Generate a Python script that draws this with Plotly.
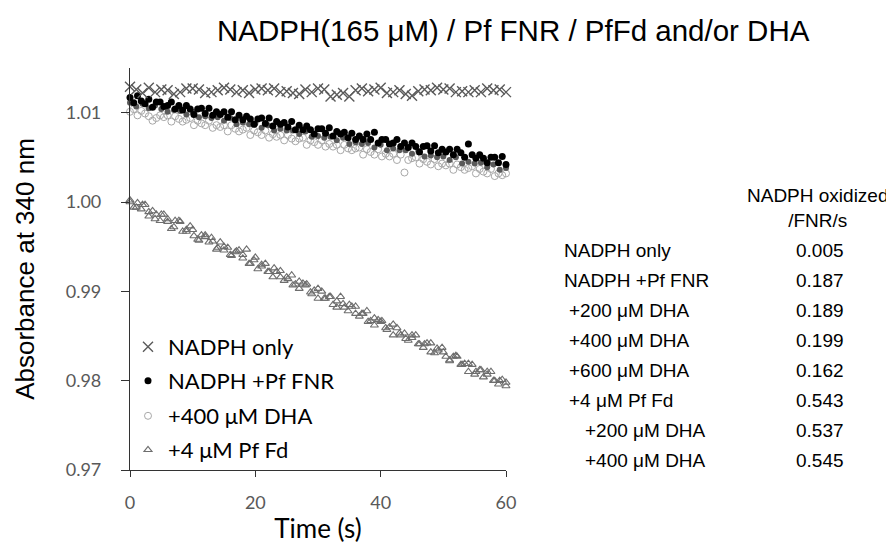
import plotly.graph_objects as go

# sample times (s)
t_fast = [0, 0.6, 1.2, 1.8, 2.4, 3, 3.6, 4.2, 4.8, 5.4,
          6, 6.6, 7.2, 7.8, 8.4, 9, 9.6, 10.2, 10.8, 11.4,
          12, 12.6, 13.2, 13.8, 14.4, 15, 15.6, 16.2, 16.8, 17.4,
          18, 18.6, 19.2, 19.8, 20.4, 21, 21.6, 22.2, 22.8, 23.4,
          24, 24.6, 25.2, 25.8, 26.4, 27, 27.6, 28.2, 28.8, 29.4,
          30, 30.6, 31.2, 31.8, 32.4, 33, 33.6, 34.2, 34.8, 35.4,
          36, 36.6, 37.2, 37.8, 38.4, 39, 39.6, 40.2, 40.8, 41.4,
          42, 42.6, 43.2, 43.8, 44.4, 45, 45.6, 46.2, 46.8, 47.4,
          48, 48.6, 49.2, 49.8, 50.4, 51, 51.6, 52.2, 52.8, 53.4,
          54, 54.6, 55.2, 55.8, 56.4, 57, 57.6, 58.2, 58.8, 59.4, 60]
t_slow = list(range(61))

# NADPH only (x)
a_nadph = [1.0129, 1.0126, 1.0122, 1.0128, 1.0123, 1.0126, 1.0125, 1.0121, 1.0123, 1.0127,
           1.0127, 1.0126, 1.0122, 1.0123, 1.0125, 1.0128, 1.0126, 1.0123, 1.0125, 1.0122,
           1.0126, 1.0127, 1.0125, 1.0127, 1.0123, 1.0124, 1.0122, 1.0121, 1.0126, 1.0123,
           1.0127, 1.0126, 1.0118, 1.0120, 1.0122, 1.0118, 1.0125, 1.0127, 1.0124, 1.0126,
           1.0128, 1.0122, 1.0123, 1.0125, 1.0121, 1.0119, 1.0124, 1.0126, 1.0125, 1.0128,
           1.0126, 1.0127, 1.0123, 1.0124, 1.0123, 1.0125, 1.0123, 1.0127, 1.0125, 1.0126,
           1.0123]

# NADPH + Pf FNR (filled black)
a_fnr = [1.0117, 1.0111, 1.0119, 1.0113, 1.0110, 1.0115, 1.0106, 1.0112, 1.0112, 1.0107,
         1.0108, 1.0112, 1.0104, 1.0108, 1.0103, 1.0108, 1.0104, 1.0098, 1.0104, 1.0105,
         1.0099, 1.0105, 1.0097, 1.0101, 1.0098, 1.0101, 1.0095, 1.0101, 1.0092, 1.0097,
         1.0092, 1.0096, 1.0093, 1.0087, 1.0093, 1.0094, 1.0088, 1.0094, 1.0085, 1.0090,
         1.0087, 1.0089, 1.0084, 1.0090, 1.0081, 1.0086, 1.0081, 1.0085, 1.0081, 1.0076,
         1.0082, 1.0082, 1.0077, 1.0083, 1.0074, 1.0079, 1.0076, 1.0078, 1.0072, 1.0077,
         1.0070, 1.0074, 1.0070, 1.0076, 1.0070, 1.0078, 1.0066, 1.0070, 1.0070, 1.0065,
         1.0066, 1.0070, 1.0062, 1.0066, 1.0061, 1.0066, 1.0062, 1.0056, 1.0062, 1.0063,
         1.0057, 1.0063, 1.0055, 1.0059, 1.0056, 1.0059, 1.0053, 1.0059, 1.0055, 1.0050,
         1.0065, 1.0053, 1.0049, 1.0053, 1.0049, 1.0044, 1.0050, 1.0050, 1.0044, 1.0051,
         1.0042]

# +200 uM DHA (dark grey, not in legend)
a_dha200 = [1.0111, 1.0107, 1.0110, 1.0105, 1.0108, 1.0104, 1.0101, 1.0103, 1.0102, 1.0098,
            1.0101, 1.0095, 1.0096, 1.0094, 1.0095, 1.0091, 1.0094, 1.0087, 1.0089, 1.0087,
            1.0088, 1.0083, 1.0086, 1.0080, 1.0082, 1.0080, 1.0080, 1.0076, 1.0079, 1.0073,
            1.0074, 1.0072, 1.0073, 1.0069, 1.0072, 1.0065, 1.0067, 1.0065, 1.0066, 1.0061,
            1.0064, 1.0058, 1.0060, 1.0058, 1.0058, 1.0054, 1.0057, 1.0051, 1.0052, 1.0050,
            1.0051, 1.0047, 1.0050, 1.0043, 1.0045, 1.0043, 1.0044, 1.0039, 1.0042, 1.0036,
            1.0038]

# +400 uM DHA (open light grey)
a_dha400 = [1.0101, 1.0104, 1.0097, 1.0102, 1.0099, 1.0096, 1.0091, 1.0094, 1.0097, 1.0095,
            1.0097, 1.0090, 1.0096, 1.0093, 1.0090, 1.0092, 1.0094, 1.0086, 1.0091, 1.0088,
            1.0086, 1.0091, 1.0083, 1.0086, 1.0084, 1.0086, 1.0079, 1.0086, 1.0082, 1.0079,
            1.0081, 1.0083, 1.0075, 1.0080, 1.0078, 1.0075, 1.0080, 1.0072, 1.0076, 1.0073,
            1.0075, 1.0069, 1.0075, 1.0071, 1.0068, 1.0071, 1.0072, 1.0064, 1.0069, 1.0067,
            1.0064, 1.0069, 1.0062, 1.0065, 1.0062, 1.0064, 1.0058, 1.0064, 1.0060, 1.0058,
            1.0060, 1.0061, 1.0053, 1.0059, 1.0056, 1.0053, 1.0059, 1.0051, 1.0054, 1.0051,
            1.0054, 1.0047, 1.0053, 1.0033, 1.0047, 1.0049, 1.0050, 1.0043, 1.0048, 1.0045,
            1.0042, 1.0048, 1.0040, 1.0043, 1.0041, 1.0043, 1.0036, 1.0042, 1.0039, 1.0036,
            1.0038, 1.0040, 1.0032, 1.0037, 1.0034, 1.0032, 1.0037, 1.0029, 1.0032, 1.0030,
            1.0032]

# +4 uM Pf Fd (open triangles)
a_fd = [1.0000, 0.9994, 0.9999, 0.9992, 0.9997, 0.9984, 0.9990, 0.9986, 0.9979, 0.9986,
        0.9978, 0.9970, 0.9979, 0.9979, 0.9967, 0.9969, 0.9973, 0.9962, 0.9958, 0.9963,
        0.9963, 0.9955, 0.9956, 0.9947, 0.9955, 0.9946, 0.9949, 0.9940, 0.9944, 0.9946,
        0.9937, 0.9947, 0.9931, 0.9935, 0.9925, 0.9930, 0.9931, 0.9922, 0.9916, 0.9922,
        0.9923, 0.9912, 0.9914, 0.9918, 0.9908, 0.9903, 0.9909, 0.9908, 0.9899, 0.9901,
        0.9892, 0.9900, 0.9892, 0.9894, 0.9885, 0.9889, 0.9894, 0.9882, 0.9878, 0.9883,
        0.9883, 0.9872, 0.9875, 0.9878, 0.9867, 0.9862, 0.9868, 0.9867, 0.9859, 0.9860,
        0.9851, 0.9859, 0.9851, 0.9853, 0.9845, 0.9848, 0.9851, 0.9841, 0.9837, 0.9842,
        0.9842, 0.9831, 0.9834, 0.9837, 0.9827, 0.9822, 0.9827, 0.9827, 0.9818, 0.9819,
        0.9810, 0.9818, 0.9810, 0.9812, 0.9804, 0.9807, 0.9810, 0.9800, 0.9796, 0.9801,
        0.9798]

# +4 uM Pf Fd with DHA (open triangles, not in legend)
a_fd_dha = [1.0002, 0.9994, 0.9997, 0.9989, 0.9981, 0.9986, 0.9981, 0.9972, 0.9978, 0.9967,
            0.9969, 0.9957, 0.9961, 0.9960, 0.9949, 0.9950, 0.9941, 0.9945, 0.9941, 0.9931,
            0.9938, 0.9928, 0.9922, 0.9926, 0.9916, 0.9916, 0.9907, 0.9911, 0.9907, 0.9897,
            0.9903, 0.9892, 0.9894, 0.9882, 0.9886, 0.9885, 0.9875, 0.9875, 0.9866, 0.9870,
            0.9866, 0.9857, 0.9863, 0.9853, 0.9847, 0.9851, 0.9841, 0.9841, 0.9832, 0.9836,
            0.9832, 0.9823, 0.9828, 0.9818, 0.9819, 0.9807, 0.9812, 0.9810, 0.9800, 0.9800,
            0.9794]

# rate table
table_labels = ["NADPH only", "NADPH +Pf FNR", "+200 μM DHA", "+400 μM DHA", "+600 μM DHA",
                "+4 μM Pf Fd", "+200 μM DHA", "+400 μM DHA"]
table_rates = ["0.005", "0.187", "0.189", "0.199", "0.162", "0.543", "0.537", "0.545"]
table_indent = [0, 0, 5, 5, 5, 5, 21, 21]

# page has an 8px body margin, so the figure is drawn 8px in from the corner
OFF = 8
W, H = 894 - OFF, 545 - OFF
L, T = 130 - OFF, 68 - OFF
R, B = W - (506 - OFF), H - (470 - OFF)


def px(x):
    return (x - OFF - L) / (W - L - R)


def py(y):
    return (H - B - (y - OFF)) / (H - T - B)


fig = go.Figure()

tri = dict(symbol="triangle-up-open", size=7, color="#6e6e6e", line=dict(width=1.1))
fig.add_trace(go.Scatter(
    x=t_slow, y=a_fd_dha, mode="markers", name="+4 μM Pf Fd +DHA", showlegend=False,
    marker=tri, cliponaxis=False))
fig.add_trace(go.Scatter(
    x=t_fast, y=a_fd, mode="markers", name="+4 μM Pf Fd", legend="legend4",
    marker=tri, cliponaxis=False))
fig.add_trace(go.Scatter(
    x=t_fast, y=a_dha400, mode="markers", name="+400 μM DHA", legend="legend3",
    marker=dict(symbol="circle-open", size=7, color="#a8a8a8", line=dict(width=1)),
    cliponaxis=False))
fig.add_trace(go.Scatter(
    x=t_slow, y=a_dha200, mode="markers", name="+200 μM DHA", showlegend=False,
    marker=dict(symbol="circle", size=6, color="#5a5a5a"),
    cliponaxis=False))
fig.add_trace(go.Scatter(
    x=t_fast, y=a_fnr, mode="markers", name="NADPH +Pf FNR", legend="legend2",
    marker=dict(symbol="circle", size=7, color="black"),
    cliponaxis=False))
fig.add_trace(go.Scatter(
    x=t_slow, y=a_nadph, mode="markers", name="NADPH only", legend="legend",
    marker=dict(symbol="x-thin", size=10, color="#5a5a5a", line=dict(width=1.4, color="#5a5a5a")),
    cliponaxis=False))

leg_font = dict(family="Lato", size=22, color="black")
leg_common = dict(xanchor="left", yanchor="middle", x=px(128), bgcolor="rgba(0,0,0,0)",
                  font=leg_font, itemclick=False)

arial = "Liberation Sans, Arial"
annotations = [dict(
    text="NADPH(165 μM) / Pf FNR / PfFd and/or DHA", xref="paper", yref="paper",
    x=px(514), y=py(31), xanchor="center", yanchor="middle", showarrow=False,
    font=dict(family=arial, size=29.5, color="black"))]
annotations.append(dict(
    text="NADPH oxidized<br>/FNR/s", xref="paper", yref="paper",
    x=px(818), y=py(208), xanchor="center", yanchor="middle", showarrow=False,
    font=dict(family=arial, size=19, color="black")))
for i, (lab, rate) in enumerate(zip(table_labels, table_rates)):
    yy = py(250 + 30 * i)
    annotations.append(dict(
        text=lab, xref="paper", yref="paper", x=px(562 + table_indent[i]), y=yy,
        xanchor="left", yanchor="middle", showarrow=False,
        font=dict(family=arial, size=19, color="black")))
    annotations.append(dict(
        text=rate, xref="paper", yref="paper", x=px(820), y=yy,
        xanchor="center", yanchor="middle", showarrow=False,
        font=dict(family=arial, size=19, color="black")))

fig.update_layout(
    width=W, height=H,
    margin=dict(l=L, r=R, t=T, b=B),
    plot_bgcolor="white", paper_bgcolor="white",
    annotations=annotations,
    legend=dict(y=py(347), **leg_common),
    legend2=dict(y=py(381), **leg_common),
    legend3=dict(y=py(416), **leg_common),
    legend4=dict(y=py(450), **leg_common),
    xaxis=dict(
        range=[0, 60], tickvals=[0, 20, 40, 60], showgrid=False, zeroline=False,
        automargin=False,
        showline=True, linecolor="#333333", linewidth=1.2,
        ticks="outside", ticklen=6, tickcolor="#333333", ticklabelstandoff=10,
        tickfont=dict(family="Lato", size=18, color="#595959"),
        title=dict(text="Time (s)", standoff=8,
                   font=dict(family="Lato", size=26, color="black"))),
    yaxis=dict(
        range=[0.97, 1.015], tickvals=[0.97, 0.98, 0.99, 1.00, 1.01], tickformat=".2f",
        showgrid=False, zeroline=False, automargin=False,
        showline=True, linecolor="#333333", linewidth=1.2,
        ticks="outside", ticklen=8, tickcolor="#333333", ticklabelstandoff=16,
        tickfont=dict(family="Lato", size=18, color="#595959"),
        title=dict(text="Absorbance at 340 nm", standoff=23,
                   font=dict(family=arial, size=26, color="black"))),
)

fig.write_html("out.html")
